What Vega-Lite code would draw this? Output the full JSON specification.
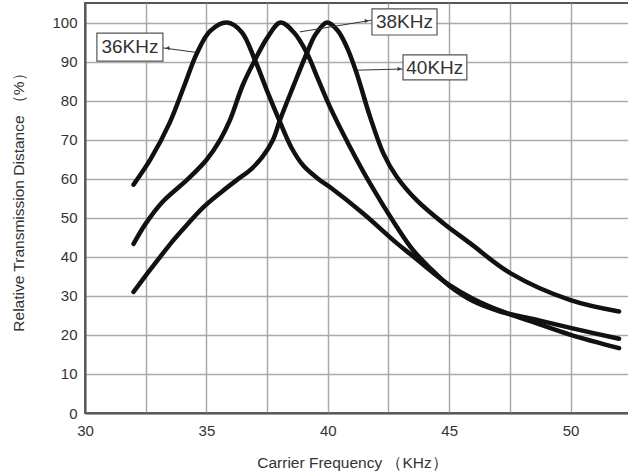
{
  "$schema": "https://vega.github.io/schema/vega-lite/v6.json",
  "autosize": "none",
  "width": 545,
  "height": 410,
  "padding": {"left": 85, "top": 3, "right": 0, "bottom": 58},
  "background": "white",
  "config": {
    "view": {"stroke": "#555", "strokeWidth": 2},
    "font": "Liberation Sans",
    "axis": {
      "labelFont": "Liberation Sans",
      "titleFont": "Liberation Sans",
      "labelColor": "#333",
      "titleColor": "#333",
      "titleFontWeight": "normal",
      "labelFontSize": 15,
      "titleFontSize": 15.5,
      "labelFlush": false,
      "ticks": false,
      "domainColor": "#555",
      "domainWidth": 2,
      "gridColor": "#aaa",
      "gridWidth": 1.5
    }
  },
  "datasets": {
    "curves": [
      {"series": "36KHz", "f": 32.0, "v": 58.5},
      {"series": "36KHz", "f": 32.7, "v": 65},
      {"series": "36KHz", "f": 33.5, "v": 74.5},
      {"series": "36KHz", "f": 34.1, "v": 84},
      {"series": "36KHz", "f": 34.6, "v": 92},
      {"series": "36KHz", "f": 35.15, "v": 97.8},
      {"series": "36KHz", "f": 35.85, "v": 100},
      {"series": "36KHz", "f": 36.45, "v": 97.6},
      {"series": "36KHz", "f": 37.0, "v": 90.4},
      {"series": "36KHz", "f": 37.5, "v": 82.5},
      {"series": "36KHz", "f": 38.0, "v": 75},
      {"series": "36KHz", "f": 38.5, "v": 68},
      {"series": "36KHz", "f": 39.0, "v": 63.3},
      {"series": "36KHz", "f": 39.6, "v": 60},
      {"series": "36KHz", "f": 40.1, "v": 57.8},
      {"series": "36KHz", "f": 41.46, "v": 51.1},
      {"series": "36KHz", "f": 42.84, "v": 43.5},
      {"series": "36KHz", "f": 43.5, "v": 40.2},
      {"series": "36KHz", "f": 44.2, "v": 36.6},
      {"series": "36KHz", "f": 45.0, "v": 32.8},
      {"series": "36KHz", "f": 46.0, "v": 29.2},
      {"series": "36KHz", "f": 47.1, "v": 26.2},
      {"series": "36KHz", "f": 48.5, "v": 23.2},
      {"series": "36KHz", "f": 50.0, "v": 20},
      {"series": "36KHz", "f": 52.0, "v": 16.6},
      {"series": "38KHz", "f": 32.0, "v": 43.3},
      {"series": "38KHz", "f": 32.5, "v": 48.5},
      {"series": "38KHz", "f": 33.2, "v": 54.1},
      {"series": "38KHz", "f": 34.2, "v": 59.7},
      {"series": "38KHz", "f": 35.0, "v": 64.8},
      {"series": "38KHz", "f": 35.56, "v": 69.9},
      {"series": "38KHz", "f": 35.97, "v": 75},
      {"series": "38KHz", "f": 36.5, "v": 84},
      {"series": "38KHz", "f": 37.0, "v": 90.4},
      {"series": "38KHz", "f": 37.5, "v": 96},
      {"series": "38KHz", "f": 38.05, "v": 100},
      {"series": "38KHz", "f": 38.6, "v": 97.5},
      {"series": "38KHz", "f": 39.14, "v": 92.2},
      {"series": "38KHz", "f": 39.6, "v": 85.5},
      {"series": "38KHz", "f": 40.09, "v": 78.4},
      {"series": "38KHz", "f": 40.91, "v": 68.2},
      {"series": "38KHz", "f": 41.74, "v": 58.8},
      {"series": "38KHz", "f": 42.84, "v": 47.7},
      {"series": "38KHz", "f": 43.5, "v": 41.8},
      {"series": "38KHz", "f": 44.2, "v": 37.2},
      {"series": "38KHz", "f": 45.0, "v": 32.6},
      {"series": "38KHz", "f": 46.0, "v": 28.6},
      {"series": "38KHz", "f": 47.1, "v": 26},
      {"series": "38KHz", "f": 48.5, "v": 24},
      {"series": "38KHz", "f": 50.0, "v": 21.8},
      {"series": "38KHz", "f": 52.0, "v": 19},
      {"series": "40KHz", "f": 32.0, "v": 31},
      {"series": "40KHz", "f": 32.5, "v": 35.2},
      {"series": "40KHz", "f": 33.0, "v": 39.2},
      {"series": "40KHz", "f": 33.5, "v": 43.2},
      {"series": "40KHz", "f": 34.0, "v": 46.8},
      {"series": "40KHz", "f": 34.86, "v": 52.6},
      {"series": "40KHz", "f": 35.6, "v": 56.5},
      {"series": "40KHz", "f": 36.26, "v": 59.7},
      {"series": "40KHz", "f": 36.8, "v": 62.2},
      {"series": "40KHz", "f": 37.3, "v": 65.5},
      {"series": "40KHz", "f": 37.74, "v": 69.9},
      {"series": "40KHz", "f": 38.03, "v": 75},
      {"series": "40KHz", "f": 38.57, "v": 83.5},
      {"series": "40KHz", "f": 39.14, "v": 92.2},
      {"series": "40KHz", "f": 39.5, "v": 97},
      {"series": "40KHz", "f": 39.97, "v": 100},
      {"series": "40KHz", "f": 40.4, "v": 98},
      {"series": "40KHz", "f": 40.8, "v": 93.5},
      {"series": "40KHz", "f": 41.19, "v": 87},
      {"series": "40KHz", "f": 41.74, "v": 75.9},
      {"series": "40KHz", "f": 42.29, "v": 66.5},
      {"series": "40KHz", "f": 42.84, "v": 60.5},
      {"series": "40KHz", "f": 43.66, "v": 54.5},
      {"series": "40KHz", "f": 44.76, "v": 48.6},
      {"series": "40KHz", "f": 45.86, "v": 43.5},
      {"series": "40KHz", "f": 47.5, "v": 35.9},
      {"series": "40KHz", "f": 50.0, "v": 28.9},
      {"series": "40KHz", "f": 52.0, "v": 26}
    ],
    "labels": [
      {"label": "36KHz", "bx1": 30.49, "bx2": 33.21, "by1": 90.1, "by2": 97.3, "tx": 31.85, "ty": 93.7, "lx1": 33.21, "ly1": 93.5, "lx2": 34.53, "ly2": 92.4, "ax": 33.4, "ay": 93.45, "shape": "triangle-left"},
      {"label": "38KHz", "bx1": 41.82, "bx2": 44.5, "by1": 96.8, "by2": 103.5, "tx": 43.16, "ty": 100.1, "lx1": 38.85, "ly1": 97.6, "lx2": 41.82, "ly2": 100.6, "ax": 41.6, "ay": 100.4, "shape": "triangle-right"},
      {"label": "40KHz", "bx1": 43.1, "bx2": 45.73, "by1": 85.3, "by2": 91.7, "tx": 44.41, "ty": 88.3, "lx1": 41.24, "ly1": 87.8, "lx2": 43.1, "ly2": 88.1, "ax": 42.95, "ay": 88.1, "shape": "triangle-right"}
    ]
  },
  "layer": [
    {
      "data": {"name": "curves"},
      "mark": {"type": "line", "interpolate": "catmull-rom", "color": "#111", "strokeWidth": 4.5, "strokeCap": "round", "strokeJoin": "round"},
      "encoding": {
        "x": {
          "field": "f", "type": "quantitative",
          "scale": {"domain": [30, 52.45], "nice": false, "zero": false},
          "axis": {
            "title": "Carrier Frequency （KHz）",
            "values": [30, 32.5, 35, 37.5, 40, 42.5, 45, 47.5, 50],
            "labelExpr": "datum.value % 5 === 0 ? datum.label : ''",
            "labelPadding": 10,
            "titleX": 267, "titleY": 49, "titleBaseline": "middle", "titleAnchor": "middle", "titleAlign": "center"
          }
        },
        "y": {
          "field": "v", "type": "quantitative",
          "scale": {"domain": [0, 105], "nice": false},
          "axis": {
            "title": "Relative Transmission Distance （%）",
            "values": [0, 5, 10, 15, 20, 25, 30, 35, 40, 45, 50, 55, 60, 65, 70, 75, 80, 85, 90, 95, 100, 105],
            "labelExpr": "datum.value % 10 === 0 && datum.value <= 100 ? datum.label : ''",
            "labelPadding": 8,
            "titleX": -67, "titleY": 195, "titleBaseline": "middle", "titleAnchor": "middle", "titleAlign": "center", "titleAngle": -90
          }
        },
        "detail": {"field": "series"}
      }
    },
    {
      "data": {"name": "labels"},
      "mark": {"type": "rule", "color": "#333", "strokeWidth": 1},
      "encoding": {
        "x": {"field": "lx1", "type": "quantitative"},
        "y": {"field": "ly1", "type": "quantitative"},
        "x2": {"field": "lx2"},
        "y2": {"field": "ly2"}
      }
    },
    {
      "data": {"name": "labels"},
      "mark": {"type": "rect", "fill": "white", "stroke": "#555", "strokeWidth": 1.2},
      "encoding": {
        "x": {"field": "bx1", "type": "quantitative"},
        "x2": {"field": "bx2"},
        "y": {"field": "by1", "type": "quantitative"},
        "y2": {"field": "by2"}
      }
    },
    {
      "data": {"name": "labels"},
      "mark": {"type": "point", "filled": true, "color": "#333", "size": 18, "opacity": 1},
      "encoding": {
        "x": {"field": "ax", "type": "quantitative"},
        "y": {"field": "ay", "type": "quantitative"},
        "shape": {"field": "shape", "type": "nominal", "scale": null, "legend": null}
      }
    },
    {
      "data": {"name": "labels"},
      "mark": {"type": "text", "font": "Liberation Sans", "fontSize": 19, "color": "#333", "align": "center", "baseline": "middle"},
      "encoding": {
        "x": {"field": "tx", "type": "quantitative"},
        "y": {"field": "ty", "type": "quantitative"},
        "text": {"field": "label"}
      }
    }
  ]
}
